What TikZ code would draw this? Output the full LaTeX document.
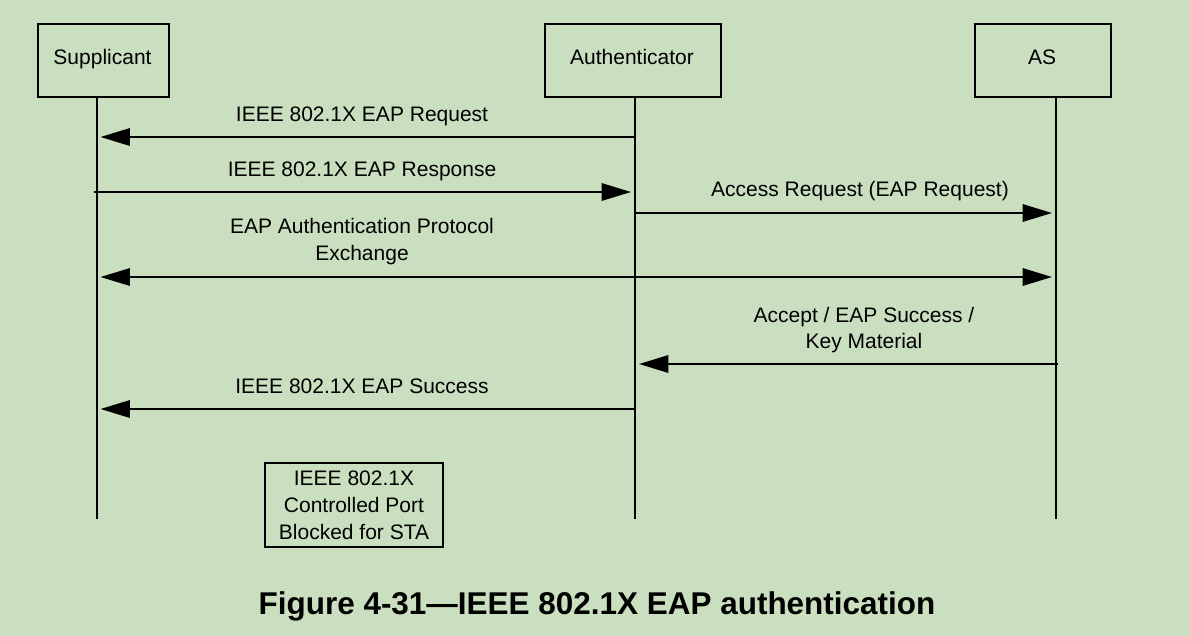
\documentclass[tikz,border=0pt]{standalone}
\usepackage{fontspec}
\setmainfont{Liberation Sans}
\usetikzlibrary{arrows.meta}
\definecolor{bg}{RGB}{202,223,192}
\begin{document}
\begin{tikzpicture}[x=0.75pt,y=-0.75pt,
  every node/.style={font=\fontsize{15.75}{20.25}\selectfont, inner sep=0pt},
  actor/.style={draw, line width=1.5pt, anchor=north west},
  life/.style={line width=1.5pt},
  msg/.style={line width=1.5pt, -{Triangle[length=22pt,width=13pt]}, shorten >=3pt},
  msgboth/.style={line width=1.5pt, {Triangle[length=22pt,width=13pt]}-{Triangle[length=22pt,width=13pt]}, shorten >=3pt, shorten <=3pt},
  lbl/.style={anchor=base, align=center},
  note/.style={draw, line width=1.5pt, align=center, minimum width=133.5pt, minimum height=63pt}
]
\fill[bg] (0,0) rectangle (1190,636);
\useasboundingbox (0,0) rectangle (1190,636);

% actors
\node[actor, minimum width=98.25pt, minimum height=54.75pt] (sup) at (37,23) {};
\node[anchor=base] (supt) at (102.5,64) {Supplicant};
\node[actor, minimum width=132pt, minimum height=54.75pt] (aut) at (544,23) {};
\node[anchor=base] (autt) at (632,64) {Authenticator};
\node[actor, minimum width=102pt, minimum height=54.75pt] (as) at (974,23) {};
\node[anchor=base] (ast) at (1042,64) {AS};

% lifelines
\coordinate (sTop) at (96.5,96);
\coordinate (aTop) at (635,96);
\coordinate (asTop) at (1056,96);
\coordinate (sBot) at (96.5,519);
\coordinate (aBot) at (635,519);
\coordinate (asBot) at (1056,519);
\draw[life] (sTop) -- (sBot);
\draw[life] (aTop) -- (aBot);
\draw[life] (asTop) -- (asBot);

% message anchor points
\coordinate (s1) at (96.5,137);  \coordinate (a1) at (635,137);
\coordinate (s2) at (94,192);    \coordinate (a2) at (635,192);
\coordinate (a3) at (635,213);   \coordinate (as3) at (1056,213);
\coordinate (s4) at (96.5,277);  \coordinate (as4) at (1056,277);
\coordinate (as5) at (1058,364); \coordinate (a5) at (635,364);
\coordinate (a6) at (635,409);   \coordinate (s6) at (96.5,409);

\draw[msg] (a1) -- (s1);
\draw[msg] (s2) -- (a2);
\draw[msg] (a3) -- (as3);
\draw[msgboth] (s4) -- (as4);
\draw[msg] (as5) -- (a5);
\draw[msg] (a6) -- (s6);

% labels
\node[lbl] (l1) at (362,121) {IEEE 802.1X EAP Request};
\node[lbl] (l2) at (362,176) {IEEE 802.1X EAP Response};
\node[lbl] (l3) at (860,196) {Access Request (EAP Request)};
\node[lbl] (l4a) at (362,233) {EAP Authentication Protocol};
\node[lbl] (l4b) at (362,260) {Exchange};
\node[lbl] (l5a) at (864,322) {Accept / EAP Success /};
\node[lbl] (l5b) at (864,348) {Key Material};
\node[lbl] (l6) at (362,393) {IEEE 802.1X EAP Success};

% note box
\node[note] (blk) at (354,505) {IEEE 802.1X\\Controlled Port\\Blocked for STA};

% caption
\node[anchor=base, font=\fontsize{23.6}{28}\selectfont\bfseries] (cap) at (597,614) {Figure 4-31—IEEE 802.1X EAP authentication};
\end{tikzpicture}
\end{document}
